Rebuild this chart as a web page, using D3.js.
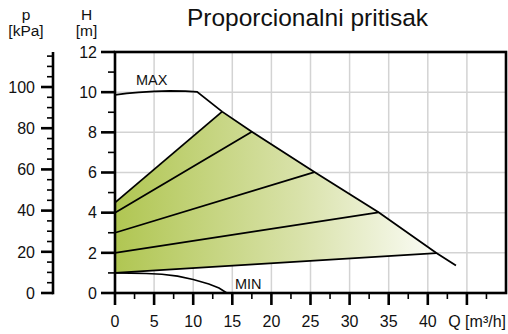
<!DOCTYPE html>
<html>
<head>
<meta charset="utf-8">
<script src="https://cdn.jsdelivr.net/npm/d3@7"></script>
<style>
  html, body { margin: 0; padding: 0; background: #fff; }
  svg { display: block; font-family: "Liberation Sans", Arial, Helvetica, sans-serif; }
</style>
</head>
<body>
<svg id="chart" width="508" height="334"></svg>
<script>
// Pump curve: proportional pressure mode
const title = "Proporcionalni pritisak";

// Flow axis Q [m³/h]
const qMajorTicks = [0, 5, 10, 15, 20, 25, 30, 35, 40, 45];
const qMinorTicks = [2.5, 7.5, 12.5, 17.5, 22.5, 27.5, 32.5, 37.5, 42.5, 47.5];
const qTickLabels = ["0", "5", "10", "15", "20", "25", "30", "35", "40"];
const qAxisLabel = "Q [m³/h]";

// Head axis H [m]
const hMajorTicks = [0, 2, 4, 6, 8, 10, 12];
const hMinorTicks = [1, 3, 5, 7, 9, 11];

// Pressure axis p [kPa]
const pMajorTicks = [0, 20, 40, 60, 80, 100];
const pMinorTicks = [5, 10, 15, 25, 30, 35, 45, 50, 55, 65, 70, 75, 85, 90, 95, 105, 110, 115];

// MAX characteristic [Q, H]
const maxCurveQ = [0, 1.5, 3, 5, 7, 9, 10.5, 13.7, 17.5, 25.5, 33.7, 41.1, 43.6];
const maxCurveH = [9.87, 9.94, 9.99, 10.04, 10.06, 10.05, 10.02, 9.03, 8.03, 6.02, 4.02, 1.99, 1.37];

// MIN characteristic [Q, H]
const minCurveQ = [0, 2, 4, 6, 8, 10, 12, 13.3, 14.3];
const minCurveH = [1.0, 0.99, 0.97, 0.93, 0.84, 0.67, 0.45, 0.25, 0.0];

// Proportional-pressure control lines: start head at Q=0, end point on MAX curve
const propStartH = [4.5, 4.0, 3.0, 2.0, 1.0];
const propEndQ = [13.7, 17.5, 25.5, 33.7, 41.1];
const propEndH = [9.03, 8.03, 6.02, 4.02, 1.99];

const svg = d3.select("#chart");

const x = d3.scaleLinear().domain([0, 50]).range([115, 506]);
const y = d3.scaleLinear().domain([0, 12]).range([293, 52]);
const p = d3.scaleLinear().domain([0, 117]).range([293, 52]);

const defs = svg.append("defs");
const grad = defs.append("linearGradient")
  .attr("id", "fillGrad")
  .attr("gradientUnits", "userSpaceOnUse")
  .attr("x1", x(0)).attr("x2", x(43)).attr("y1", 0).attr("y2", 0);
grad.append("stop").attr("offset", "0%").attr("stop-color", "#b0c652");
grad.append("stop").attr("offset", "55%").attr("stop-color", "#d9e2aa");
grad.append("stop").attr("offset", "100%").attr("stop-color", "#ffffff");

// Grid
const grid = svg.append("g").attr("stroke", "#d3d3d3").attr("stroke-width", 1.5);
grid.selectAll("line.v").data(qMajorTicks.filter(d => d > 0)).enter().append("line")
  .attr("x1", d => x(d)).attr("x2", d => x(d)).attr("y1", y(0)).attr("y2", y(12));
grid.selectAll("line.h").data(hMajorTicks.filter(d => d > 0 && d < 12)).enter().append("line")
  .attr("x1", x(0)).attr("x2", x(50)).attr("y1", d => y(d)).attr("y2", d => y(d));

// Operating area between top and bottom control lines, bounded by MAX curve
const maxPts = maxCurveQ.map((q, i) => [q, maxCurveH[i]]);
const lastProp = propEndQ.length - 1;
const area = [[0, propStartH[0]], [propEndQ[0], propEndH[0]]]
  .concat(maxPts.filter(d => d[0] > propEndQ[0] && d[0] < propEndQ[lastProp]))
  .concat([[propEndQ[lastProp], propEndH[lastProp]], [0, propStartH[lastProp]]]);
const line = d3.line().x(d => x(d[0])).y(d => y(d[1]));
svg.append("path")
  .attr("d", line(area) + "Z")
  .attr("fill", "url(#fillGrad)")
  .attr("stroke", "none");

// Control lines
svg.append("g").selectAll("path").data(propStartH).enter().append("path")
  .attr("d", (h, i) => line([[0, h], [propEndQ[i], propEndH[i]]]))
  .attr("fill", "none").attr("stroke", "#000").attr("stroke-width", 1.8);

// MAX and MIN curves
svg.append("path").attr("d", line(maxPts))
  .attr("fill", "none").attr("stroke", "#000").attr("stroke-width", 1.8);
svg.append("path").attr("d", line(minCurveQ.map((q, i) => [q, minCurveH[i]])))
  .attr("fill", "none").attr("stroke", "#000").attr("stroke-width", 1.6);

// Frame
svg.append("rect")
  .attr("x", x(0)).attr("y", y(12))
  .attr("width", x(50) - x(0)).attr("height", y(0) - y(12))
  .attr("fill", "none").attr("stroke", "#000").attr("stroke-width", 2.6);

// Q axis
const qAxis = svg.append("g").attr("stroke", "#000");
qAxis.selectAll("line.maj").data(qMajorTicks).enter().append("line")
  .attr("x1", d => x(d)).attr("x2", d => x(d)).attr("y1", y(0)).attr("y2", y(0) + 12)
  .attr("stroke-width", 2.6);
qAxis.selectAll("line.min").data(qMinorTicks).enter().append("line")
  .attr("x1", d => x(d)).attr("x2", d => x(d)).attr("y1", y(0)).attr("y2", y(0) + 6)
  .attr("stroke-width", 1.6);
svg.append("g").selectAll("text").data(qTickLabels).enter().append("text")
  .attr("x", (d, i) => x(qMajorTicks[i])).attr("y", 327)
  .attr("text-anchor", "middle").attr("font-size", 16).attr("fill", "#111")
  .text(d => d);
svg.append("text").attr("x", 506).attr("y", 327).attr("text-anchor", "end")
  .attr("font-size", 16).attr("fill", "#111").text(qAxisLabel);

// H axis
const hAxis = svg.append("g").attr("stroke", "#000");
hAxis.selectAll("line.maj").data(hMajorTicks).enter().append("line")
  .attr("x1", x(0) - 14).attr("x2", x(0)).attr("y1", d => y(d)).attr("y2", d => y(d))
  .attr("stroke-width", 2.6);
hAxis.selectAll("line.min").data(hMinorTicks).enter().append("line")
  .attr("x1", x(0) - 7).attr("x2", x(0)).attr("y1", d => y(d)).attr("y2", d => y(d))
  .attr("stroke-width", 1.6);
svg.append("g").selectAll("text").data(hMajorTicks).enter().append("text")
  .attr("x", 97).attr("y", d => y(d) + 5.8)
  .attr("text-anchor", "end").attr("font-size", 16).attr("fill", "#111")
  .text(d => d);

// p axis
const pAxisX = 53;
const pAxis = svg.append("g").attr("stroke", "#000");
pAxis.append("line").attr("x1", pAxisX).attr("x2", pAxisX)
  .attr("y1", p(117)).attr("y2", p(0) + 1.3).attr("stroke-width", 2.6);
pAxis.selectAll("line.maj").data(pMajorTicks).enter().append("line")
  .attr("x1", pAxisX - 12).attr("x2", pAxisX).attr("y1", d => p(d)).attr("y2", d => p(d))
  .attr("stroke-width", 2.6);
pAxis.selectAll("line.min").data(pMinorTicks).enter().append("line")
  .attr("x1", pAxisX - 6).attr("x2", pAxisX).attr("y1", d => p(d)).attr("y2", d => p(d))
  .attr("stroke-width", 1.6);
svg.append("g").selectAll("text").data(pMajorTicks).enter().append("text")
  .attr("x", 35).attr("y", d => p(d) + 5.8)
  .attr("text-anchor", "end").attr("font-size", 16).attr("fill", "#111")
  .text(d => d);

// Axis headers
const headers = [["p", 26, 20], ["[kPa]", 26, 36], ["H", 86.5, 20], ["[m]", 86.5, 36]];
svg.append("g").selectAll("text").data(headers).enter().append("text")
  .attr("x", d => d[1]).attr("y", d => d[2])
  .attr("text-anchor", "middle").attr("font-size", 15.5).attr("fill", "#111")
  .text(d => d[0]);

// Curve labels
svg.append("text").attr("x", 136).attr("y", 85).attr("font-size", 14.5).attr("fill", "#111").text("MAX");
svg.append("text").attr("x", 235).attr("y", 289).attr("font-size", 14.5).attr("fill", "#111").text("MIN");

// Title
svg.append("text").attr("x", 307.5).attr("y", 26).attr("text-anchor", "middle")
  .attr("font-size", 24.5).attr("fill", "#111").text(title);
</script>
</body>
</html>
